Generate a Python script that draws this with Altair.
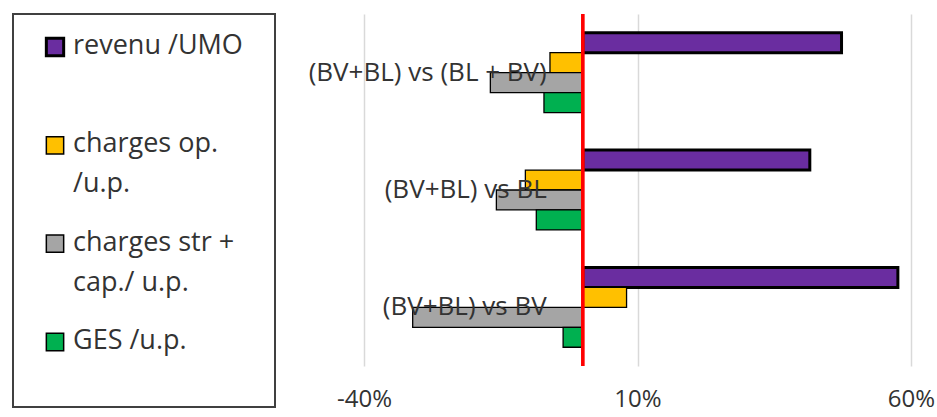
import altair as alt
import pandas as pd

# Comparisons shown on the category axis (top to bottom)
categories = ["(BV+BL) vs (BL + BV)", "(BV+BL) vs BL", "(BV+BL) vs BV"]

# Indicator series, in drawing order within each group
series = ["revenu /UMO", "charges op. /u.p.", "charges str + cap./ u.p.", "GES /u.p."]
legend_labels = ["revenu /UMO", "charges op.\n/u.p.", "charges str +\ncap./ u.p.", "GES /u.p."]
colors = ["#6A2DA0", "#FFC000", "#A5A5A5", "#00B050"]

# Relative differences (%) per comparison
revenu = [47.3, 41.5, 57.6]
charges_op = [-6.0, -10.5, 8.0]
charges_str = [-16.9, -15.8, -31.1]
ges = [-7.1, -8.5, -3.6]

x_ticks = [-40, 10, 60]

values_by_series = [revenu, charges_op, charges_str, ges]
rows = []
for s, vals in zip(series, values_by_series):
    for c, v in zip(categories, vals):
        rows.append({"cat": c, "series": s, "value": v})
df = pd.DataFrame(rows)
cat_df = pd.DataFrame({"cat": categories})
leg_df = pd.DataFrame({"series": series, "label": legend_labels})

FONT = "Open Sans"
TEXT_COLOR = "#333333"

y_enc = alt.Y(
    "cat:N",
    sort=categories,
    scale=alt.Scale(domain=categories, paddingInner=0.32, paddingOuter=0.16),
    axis=None,
)

bars = alt.Chart(df).mark_bar(stroke="black").encode(
    x=alt.X(
        "value:Q",
        scale=alt.Scale(domain=[-40, 60], nice=False, zero=False),
        axis=alt.Axis(
            values=x_ticks,
            labelExpr="datum.value + '%'",
            grid=True,
            gridColor="#D9D9D9",
            gridWidth=1.5,
            domain=False,
            ticks=False,
            labelFlush=False,
            labelPadding=21,
            labelFontSize=24,
            labelFont=FONT,
            labelColor=TEXT_COLOR,
            title=None,
        ),
    ),
    y=y_enc,
    yOffset=alt.YOffset(
        "series:N",
        sort=series,
        scale=alt.Scale(domain=series, paddingInner=0, paddingOuter=0),
    ),
    color=alt.Color("series:N", scale=alt.Scale(domain=series, range=colors), legend=None),
    strokeWidth=alt.condition(alt.datum.series == series[0], alt.value(3), alt.value(1.3)),
)

zero_line = alt.Chart(cat_df).mark_rule(color="#FF0000", strokeWidth=3).encode(
    x=alt.datum(0)
)

cat_labels = alt.Chart(cat_df).mark_text(
    align="right", baseline="middle", dx=-36, dy=0,
    font=FONT, fontSize=26, color=TEXT_COLOR,
).encode(
    x=alt.datum(0),
    y=y_enc,
    text="cat:N",
)

main = alt.layer(bars, zero_line, cat_labels).properties(width=547, height=352)

# Boxed legend panel
leg_y = alt.Y(
    "series:N",
    sort=series,
    scale=alt.Scale(domain=series, type="point", padding=0, range=[33, 328]),
    axis=None,
)

symbols = alt.Chart(leg_df).mark_square(size=300, opacity=1, stroke="black").encode(
    x=alt.value(42),
    y=leg_y,
    color=alt.Color("series:N", scale=alt.Scale(domain=series, range=colors), legend=None),
    strokeWidth=alt.condition(alt.datum.series == series[0], alt.value(3), alt.value(1.5)),
)

labels = alt.Chart(leg_df).mark_text(
    align="left", baseline="top", dy=-14, lineBreak="\n", lineHeight=40,
    font=FONT, fontSize=27, color=TEXT_COLOR,
).encode(
    x=alt.value(60),
    y=leg_y,
    text="label:N",
)

legend_panel = alt.layer(symbols, labels).properties(
    width=262,
    height=393,
    view=alt.ViewBackground(stroke="#404040", strokeWidth=2),
)

chart = alt.hconcat(legend_panel, main, spacing=89, bounds="flush").properties(
    padding={"left": 12, "top": 12, "right": 0, "bottom": 5},
    background="white",
).configure_view(strokeWidth=0)

chart.save("out.html", embed_options={"renderer": "svg", "actions": False})
